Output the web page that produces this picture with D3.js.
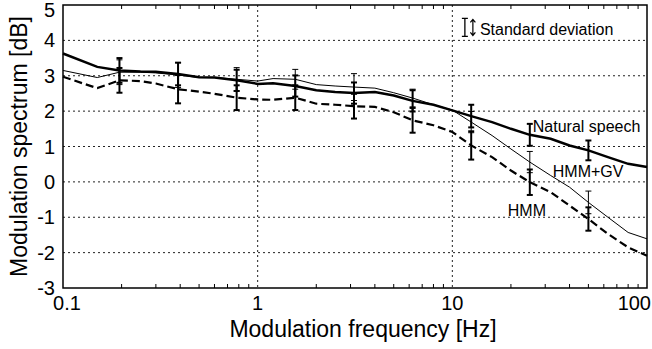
<!DOCTYPE html>
<html>
<head>
<meta charset="utf-8">
<script src="https://cdn.jsdelivr.net/npm/d3@7"></script>
<style>
  body { margin: 0; background: #fff; }
  text { font-family: "Liberation Sans", Arial, sans-serif; fill: #000; }
</style>
</head>
<body>
<div id="d3"></div>
<script>
// modulation frequency [Hz] of each sample
const freqs = [0.1, 0.15, 0.195, 0.25, 0.3, 0.39, 0.5, 0.6, 0.78, 1, 1.2, 1.56, 2, 2.5, 3.125,
  4, 5, 6.25, 8, 10, 12.5, 16, 20, 25, 32, 40, 50, 63, 80, 100];

// modulation spectrum [dB]
const natural = [3.63, 3.25, 3.15, 3.12, 3.11, 3.05, 2.96, 2.95, 2.87, 2.77, 2.79, 2.71, 2.59, 2.54, 2.51,
  2.54, 2.44, 2.29, 2.18, 2.02, 1.86, 1.69, 1.5, 1.33, 1.22, 1.03, 0.89, 0.7, 0.51, 0.42];
const hmmGv = [3.15, 2.95, 3.1, 3.1, 3.08, 3.02, 2.95, 2.95, 2.9, 2.85, 2.92, 2.9, 2.75, 2.71, 2.68,
  2.65, 2.52, 2.37, 2.18, 2.03, 1.69, 1.31, 0.93, 0.56, 0.18, -0.15, -0.58, -1.0, -1.43, -1.61];
const hmm = [2.97, 2.65, 2.87, 2.85, 2.78, 2.62, 2.55, 2.49, 2.38, 2.33, 2.32, 2.38, 2.21, 2.18, 2.14,
  2.12, 1.97, 1.74, 1.6, 1.41, 1.03, 0.7, 0.32, -0.01, -0.29, -0.67, -1.05, -1.47, -1.85, -2.09];

// standard deviation at the marked frequencies
const sdFreqs = [0.195, 0.39, 0.78, 1.56, 3.125, 6.25, 12.5, 25, 50];
const sdNatural = [0.35, 0.32, 0.3, 0.3, 0.3, 0.3, 0.32, 0.31, 0.28];
const sdHmmGv = [0.35, 0.35, 0.33, 0.28, 0.38, 0.25, 0.3, 0.3, 0.32];
const sdHmm = [0.35, 0.4, 0.35, 0.35, 0.35, 0.35, 0.4, 0.36, 0.33];

const yTicks = [-3, -2, -1, 0, 1, 2, 3, 4, 5];
const xTicks = [0.1, 1, 10, 100];

const margin = { top: 5, right: 5, bottom: 61, left: 63 },
  width = 652 - margin.left - margin.right,
  height = 349 - margin.top - margin.bottom;

const svg = d3
  .select("#d3")
  .append("svg")
  .attr("width", 652)
  .attr("height", 349)
  .append("g")
  .attr("transform", `translate(${margin.left},${margin.top})`);

const x = d3.scaleLog().domain([0.1, 100]).range([0, width]);
const y = d3.scaleLinear().domain([-3, 5]).range([height, 0]);

// dotted grid
svg
  .selectAll(".gx")
  .data([1, 10])
  .join("line")
  .attr("x1", (d) => x(d))
  .attr("x2", (d) => x(d))
  .attr("y1", 0)
  .attr("y2", height)
  .attr("stroke", "#222")
  .attr("stroke-width", 1)
  .attr("stroke-dasharray", "2,3");
svg
  .selectAll(".gy")
  .data([-2, -1, 0, 1, 2, 3, 4])
  .join("line")
  .attr("x1", 0)
  .attr("x2", width)
  .attr("y1", (d) => y(d))
  .attr("y2", (d) => y(d))
  .attr("stroke", "#222")
  .attr("stroke-width", 1)
  .attr("stroke-dasharray", "2,3");

// minor ticks on top and bottom
const minor = [];
[0.1, 1, 10].forEach((dec) => {
  for (let k = 2; k <= 9; k++) minor.push(dec * k);
});
svg
  .selectAll(".mb")
  .data(minor.concat(minor))
  .join("line")
  .attr("x1", (d) => x(d))
  .attr("x2", (d) => x(d))
  .attr("y1", (d, i) => (i < minor.length ? height : 0))
  .attr("y2", (d, i) => (i < minor.length ? height - 4 : 4))
  .attr("stroke", "#000")
  .attr("stroke-width", 1);

// axis box
svg
  .append("rect")
  .attr("width", width)
  .attr("height", height)
  .attr("fill", "none")
  .attr("stroke", "#000")
  .attr("stroke-width", 1.5);

// tick labels ("5" sits a bit lower so it stays inside the page)
svg
  .selectAll(".yl")
  .data(yTicks)
  .join("text")
  .attr("x", -8)
  .attr("y", (d) => y(d) + (d === 5 ? 12 : 7))
  .attr("text-anchor", "end")
  .style("font-size", "20px")
  .text((d) => d);
svg
  .selectAll(".xl")
  .data(xTicks)
  .join("text")
  .attr("x", (d) => x(d) + (d === 100 ? 4 : d === 0.1 ? 4 : 0))
  .attr("y", height + 22)
  .attr("text-anchor", (d) => (d === 100 ? "end" : "middle"))
  .style("font-size", "20px")
  .text((d) => d);

// axis titles
svg
  .append("text")
  .attr("x", 300)
  .attr("y", height + 49)
  .attr("text-anchor", "middle")
  .style("font-size", "23px")
  .text("Modulation frequency [Hz]");
svg
  .append("text")
  .attr("transform", `translate(${-36},${height / 2}) rotate(-90)`)
  .attr("text-anchor", "middle")
  .style("font-size", "23px")
  .text("Modulation spectrum [dB]");

// curves
const line = d3
  .line()
  .x((d, i) => x(freqs[i]))
  .y((d) => y(d));

svg.append("path").datum(hmm).attr("d", line).attr("fill", "none")
  .attr("stroke", "#000").attr("stroke-width", 2.2).attr("stroke-dasharray", "8,4");
svg.append("path").datum(hmmGv).attr("d", line).attr("fill", "none")
  .attr("stroke", "#000").attr("stroke-width", 1);
svg.append("path").datum(natural).attr("d", line).attr("fill", "none")
  .attr("stroke", "#000").attr("stroke-width", 2.5);

// error bars
function errorBars(series, sd, w) {
  const bars = sdFreqs.map((f, i) => ({ f: f, m: series[freqs.indexOf(f)], s: sd[i] }));
  const g = svg.append("g").attr("stroke", "#000").attr("stroke-width", w);
  g.selectAll(".v").data(bars).join("line")
    .attr("x1", (d) => x(d.f)).attr("x2", (d) => x(d.f))
    .attr("y1", (d) => y(d.m - d.s)).attr("y2", (d) => y(d.m + d.s));
  g.selectAll(".t").data(bars).join("line")
    .attr("x1", (d) => x(d.f) - 3).attr("x2", (d) => x(d.f) + 3)
    .attr("y1", (d) => y(d.m + d.s)).attr("y2", (d) => y(d.m + d.s));
  g.selectAll(".b").data(bars).join("line")
    .attr("x1", (d) => x(d.f) - 3).attr("x2", (d) => x(d.f) + 3)
    .attr("y1", (d) => y(d.m - d.s)).attr("y2", (d) => y(d.m - d.s));
}
errorBars(natural, sdNatural, 2);
errorBars(hmmGv, sdHmmGv, 1);
errorBars(hmm, sdHmm, 2);

// curve labels
const labels = [
  { text: "Natural speech", f: 25, v: 1.33, dx: 3, dy: -3 },
  { text: "HMM+GV", f: 25, v: 0.56, dx: 23, dy: 15 },
  { text: "HMM", f: 25, v: -0.01, dx: -22, dy: 34 }
];
svg
  .selectAll(".lab")
  .data(labels)
  .join("text")
  .attr("x", (d) => x(d.f) + d.dx)
  .attr("y", (d) => y(d.v) + d.dy)
  .style("font-size", "16px")
  .text((d) => d.text);

// standard deviation key
const key = svg.append("g").attr("transform", `translate(${x(11.6)},${y(4.62)})`);
key.append("path").attr("d", "M-3,0H3M0,0V18M-3,18H3").attr("stroke", "#000")
  .attr("stroke-width", 1.3).attr("fill", "none");
key.append("path").attr("d", "M8,1V17M5.5,4L8,1L10.5,4M5.5,14L8,17L10.5,14").attr("stroke", "#000")
  .attr("stroke-width", 1.2).attr("fill", "none");
key.append("text").attr("x", 15).attr("y", 17).style("font-size", "16px").text("Standard deviation");
</script>
</body>
</html>
